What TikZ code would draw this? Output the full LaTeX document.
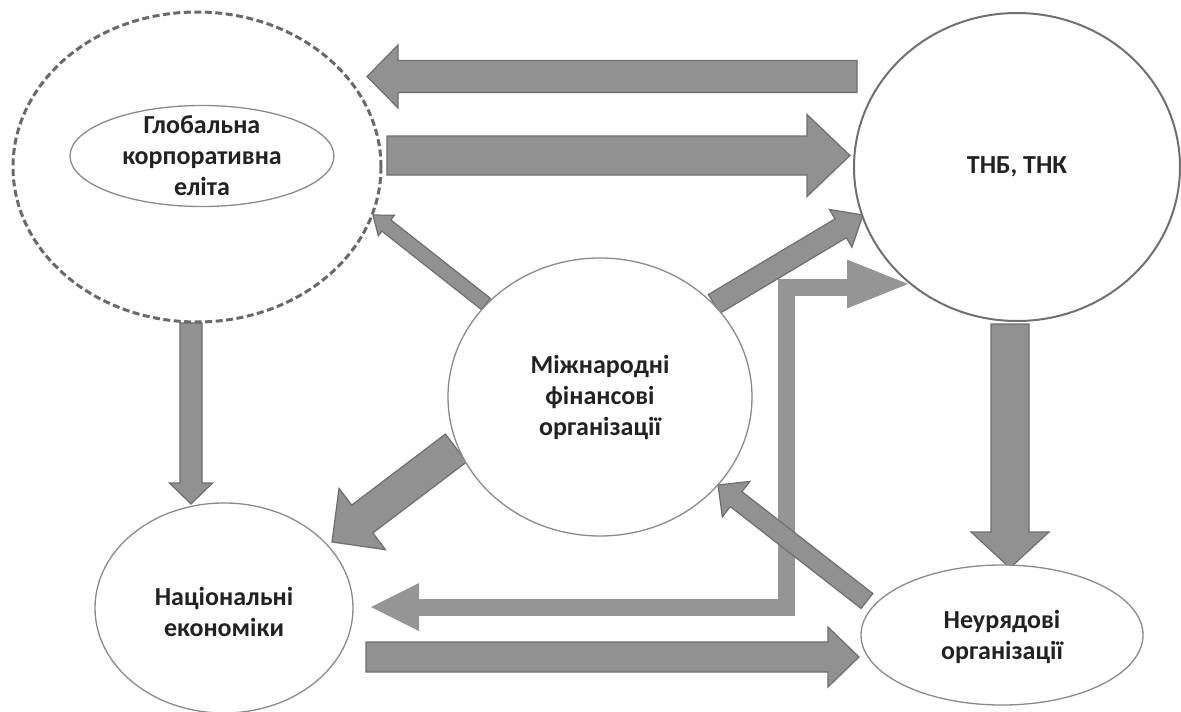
\documentclass[tikz,border=0pt]{standalone}
\usepackage{fontspec}
\setmainfont{Carlito}
\usetikzlibrary{shapes.geometric,calc}
\definecolor{arrfill}{HTML}{919191}
\definecolor{arrline}{HTML}{6E6E6E}
\definecolor{elbfill}{HTML}{959595}
\definecolor{ellline}{HTML}{8A8A8A}
\definecolor{dashline}{HTML}{696969}
\definecolor{tnbline}{HTML}{707070}
\definecolor{txtcol}{HTML}{222222}
\pgfdeclarelayer{bg}
\pgfsetlayers{bg,main}
% #1 style, #2 tail, #3 tip, #4 half shaft, #5 half head, #6 head length
\newcommand\blockarrow[6][]{%
  \coordinate (babase) at ($(#3)!#6!(#2)$);
  \filldraw[#1] ($(#2)!#4!90:(#3)$) -- ($(babase)!#4!90:(#3)$) -- ($(babase)!#5!90:(#3)$)
    -- (#3) -- ($(babase)!#5!-90:(#3)$) -- ($(babase)!#4!-90:(#3)$) -- ($(#2)!#4!-90:(#3)$) -- cycle;
}
\begin{document}
\begin{tikzpicture}[x=1pt,y=-1pt,
  blockarr/.style={fill=arrfill,draw=arrline,line width=1.2pt,line join=miter},
  elbowbar/.style={draw=elbfill,line width=17pt,line join=miter},
  elbowhead/.style={fill=elbfill},
  oval/.style={ellipse,draw=ellline,line width=1.3pt,fill=white,inner sep=0pt,outer sep=0pt},
  dashoval/.style={oval,draw=dashline,line width=3pt,dash pattern=on 7pt off 3.5pt},
  tnboval/.style={oval,draw=tnbline,line width=2pt},
  lbl/.style={font=\fontsize{26}{31}\selectfont\bfseries,text=txtcol,align=center,inner sep=0pt}]
\useasboundingbox (0,0) rectangle (1181,712);

% nodes
\node[dashoval,minimum width=368pt,minimum height=310pt] (glob) at (197,167) {};
\node[oval,minimum width=264pt,minimum height=101pt] (elite) at (202,156) {};
\node[lbl] (elitetxt) at (elite.center) {Глобальна\\корпоративна\\еліта};
\node[tnboval,minimum width=326pt,minimum height=308pt] (tnb) at (1017,167) {};
\node[lbl] (tnbtxt) at (tnb.center) {ТНБ, ТНК};
\node[oval,minimum width=304pt,minimum height=278pt] (mfo) at (600,397) {};
\node[lbl] (mfotxt) at (mfo.center) {Міжнародні\\фінансові\\організації};
\node[oval,minimum width=258pt,minimum height=210pt] (nat) at (224,608) {};
\node[lbl] (nattxt) at ($(nat.center)+(0,4)$) {Національні\\економіки};
\node[oval,minimum width=282pt,minimum height=140pt] (ngo) at (1002,635) {};
\node[lbl] (ngotxt) at ($(ngo.center)+(0,2)$) {Неурядові\\організації};

% arrow end points
\coordinate (a1s) at (857,76.5);  \coordinate (a1e) at (367,76.5);
\coordinate (a2s) at (387,155.5); \coordinate (a2e) at (850,155.5);
\coordinate (a3s) at (191,323);   \coordinate (a3e) at (191,504);
\coordinate (a4s) at (1010,324);  \coordinate (a4e) at (1010,568);
\coordinate (a5s) at (366,657);   \coordinate (a5e) at (859,657);
\coordinate (d1s) at (486,304);   \coordinate (d1e) at (373,215);
\coordinate (d2s) at (714,304);   \coordinate (d2e) at (863,215);
\coordinate (d3s) at (456,448);   \coordinate (d3e) at (332,542);
\coordinate (d4s) at (867,601);   \coordinate (d4e) at (718,485);
\coordinate (elbL) at (419,607);  \coordinate (elbC) at (786,287);
\coordinate (elbR) at (847,287);
\coordinate (elbLtip) at (371,607); \coordinate (elbRtip) at (908,284);

\begin{pgfonlayer}{bg}
  \fill[white] (0,0) rectangle (1181,712);
  % elbow double arrow
  \draw[elbowbar] (elbL) -| (elbC) -- (elbR);
  \fill[elbowhead] ($(elbL)+(0,-24)$) -- (elbLtip) -- ($(elbL)+(0,24)$) -- cycle;
  \fill[elbowhead] (847,259.5) -- (elbRtip) -- (847,308.5) -- cycle;
  % block arrows
  \blockarrow[blockarr]{a1s}{a1e}{16pt}{31.5pt}{31pt}
  \blockarrow[blockarr]{a2s}{a2e}{19.5pt}{41pt}{43pt}
  \blockarrow[blockarr]{a3s}{a3e}{11pt}{21.5pt}{21pt}
  \blockarrow[blockarr]{a4s}{a4e}{19pt}{39pt}{36pt}
  \blockarrow[blockarr]{a5s}{a5e}{15pt}{30pt}{31pt}
  \blockarrow[blockarr]{d1s}{d1e}{7.2pt}{13pt}{17pt}
  \blockarrow[blockarr]{d2s}{d2e}{11pt}{22pt}{26pt}
  \blockarrow[blockarr]{d3s}{d3e}{17.5pt}{38.5pt}{38pt}
  \blockarrow[blockarr]{d4s}{d4e}{9.5pt}{22.5pt}{23pt}
\end{pgfonlayer}
\end{tikzpicture}
\end{document}
